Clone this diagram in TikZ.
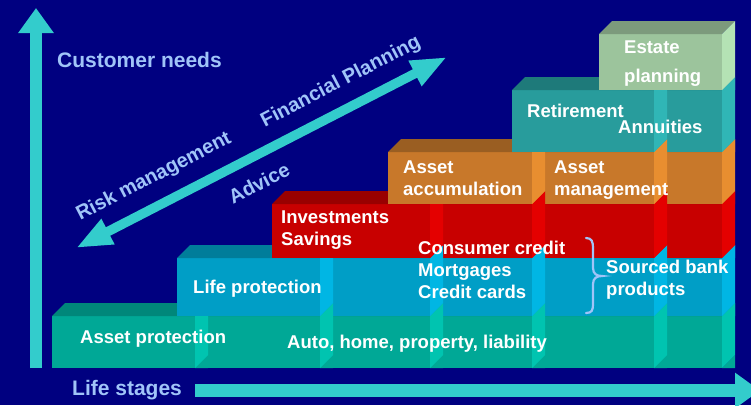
\documentclass[tikz,border=0pt]{standalone}
\usepackage{fontspec}
\setmainfont{Liberation Sans}
\usetikzlibrary{arrows.meta}
\definecolor{bgnavy}{HTML}{000080}
\definecolor{turq}{HTML}{33CCCC}
\definecolor{lbl}{HTML}{A0C4F8}
\definecolor{rAf}{HTML}{00A896}\definecolor{rAt}{HTML}{00877A}\definecolor{rAs}{HTML}{00C4B0}
\definecolor{rBf}{HTML}{009EC6}\definecolor{rBt}{HTML}{007D9A}\definecolor{rBs}{HTML}{00B6E4}
\definecolor{rCf}{HTML}{C80000}\definecolor{rCt}{HTML}{990000}\definecolor{rCs}{HTML}{E40000}
\definecolor{rDf}{HTML}{C8782A}\definecolor{rDt}{HTML}{9A5E22}\definecolor{rDs}{HTML}{E88E30}
\definecolor{rEf}{HTML}{289C9C}\definecolor{rEt}{HTML}{1E7A7A}\definecolor{rEs}{HTML}{30B6B6}
\definecolor{rFf}{HTML}{9CC49C}\definecolor{rFt}{HTML}{7C9A7C}\definecolor{rFs}{HTML}{B4E2B4}
\newcommand\dd{13}
% #1 left #2 right #3 ytop #4 ybot #5 front #6 top #7 side #8 lower side #9 boundaries
\newcommand\blockrow[9]{%
  \fill[#5] (#1,#3) rectangle (#2,#4);
  \fill[#6] (#1,#3) -- (#1+\dd,#3-\dd) -- (#2+\dd,#3-\dd) -- (#2,#3) -- cycle;
  \foreach \b in {#9} {
    \fill[#8] (\b,#4) -- (\b+\dd,#4-\dd) -- (\b+\dd,#4) -- cycle;
    \fill[#7] (\b,#4) -- (\b,#3) -- (\b+\dd,#3-\dd) -- (\b+\dd,#4-\dd) -- cycle;
  }%
}
\tikzset{
  boxtxt/.style={anchor=base west, inner sep=0pt, text=white, font=\fontsize{18.5}{22}\selectfont\bfseries},
  axistxt/.style={anchor=base west, inner sep=0pt, text=lbl, font=\fontsize{21}{25}\selectfont\bfseries},
  diagtxt/.style={inner sep=0pt, text=lbl, rotate=27.4, font=\fontsize{20}{24}\selectfont\bfseries},
  axisarrow/.style={turq, line width=12.5pt, -{Triangle[width=34pt,length=25pt]}},
  diagarrow/.style={turq, line width=9.5pt, {Triangle[width=26pt,length=36pt]}-{Triangle[width=26pt,length=36pt]}},
}
\begin{document}
\begin{tikzpicture}[x=1pt,y=-1pt]
\fill[bgnavy] (0,0) rectangle (751,405);
\useasboundingbox (0,0) rectangle (751,405);
% rows of blocks
\blockrow{52}{722}{316}{368}{rAf}{rAt}{rAs}{rAf}{195,320,430,532,654,722}
\blockrow{177}{722}{258}{316}{rBf}{rBt}{rBs}{rAs}{320,430,532,654,722}
\blockrow{272}{722}{204}{258}{rCf}{rCt}{rCs}{rBs}{430,532,654,722}
\blockrow{388}{722}{152}{204}{rDf}{rDt}{rDs}{rCs}{532,654,722}
\blockrow{512}{722}{90}{152}{rEf}{rEt}{rEs}{rDs}{654,722}
\blockrow{599}{722}{34}{90}{rFf}{rFt}{rFs}{rEs}{722}
% axes
\coordinate (vbot) at (36,368);
\coordinate (vtop) at (36,8);
\coordinate (hl) at (195,390.5);
\coordinate (hr) at (760,390.5);
\draw[axisarrow] (vbot) -- (vtop);
\draw[axisarrow] (hl) -- (hr);
\coordinate (dl) at (76,248);
\coordinate (dr) at (447,57);
\draw[diagarrow] (dl) -- (dr);
% brace
\coordinate (bt) at (586,238);
\coordinate (bb) at (586,313);
\draw[lbl, line width=2.2pt, line cap=round]
  (bt) .. controls (592,238) and (593,242) .. (593,248) -- (593,268)
  .. controls (593,274) and (597,276) .. (602,276)
  .. controls (597,276) and (593,278) .. (593,284) -- (593,304)
  .. controls (593,310) and (592,313) .. (bb);
% labels
\node[axistxt] (cn) at (57,67) {Customer needs};
\node[axistxt] (ls) at (72,395) {Life stages};
\node[diagtxt] (rm) at (154,177) {Risk management};
\node[diagtxt] (fp) at (341,82) {Financial Planning};
\node[diagtxt] (adv) at (259,183) {Advice};
% block texts
\node[boxtxt] (t1) at (624,53) {Estate};
\node[boxtxt] (t2) at (624,82) {planning};
\node[boxtxt] (t3) at (527,117) {Retirement};
\node[boxtxt] (t4) at (618,133) {Annuities};
\node[boxtxt] (t5) at (403,173) {Asset};
\node[boxtxt] (t6) at (403,195) {accumulation};
\node[boxtxt] (t7) at (554,173) {Asset};
\node[boxtxt] (t8) at (554,195) {management};
\node[boxtxt] (t9) at (281,223) {Investments};
\node[boxtxt] (t10) at (281,245) {Savings};
\node[boxtxt] (t11) at (418,254) {Consumer credit};
\node[boxtxt] (t12) at (418,276) {Mortgages};
\node[boxtxt] (t13) at (418,298) {Credit cards};
\node[boxtxt] (t14) at (606,273) {Sourced bank};
\node[boxtxt] (t15) at (606,295) {products};
\node[boxtxt] (t16) at (193,293) {Life protection};
\node[boxtxt] (t17) at (80,343) {Asset protection};
\node[boxtxt] (t18) at (287,348) {Auto, home, property, liability};
\end{tikzpicture}
\end{document}
